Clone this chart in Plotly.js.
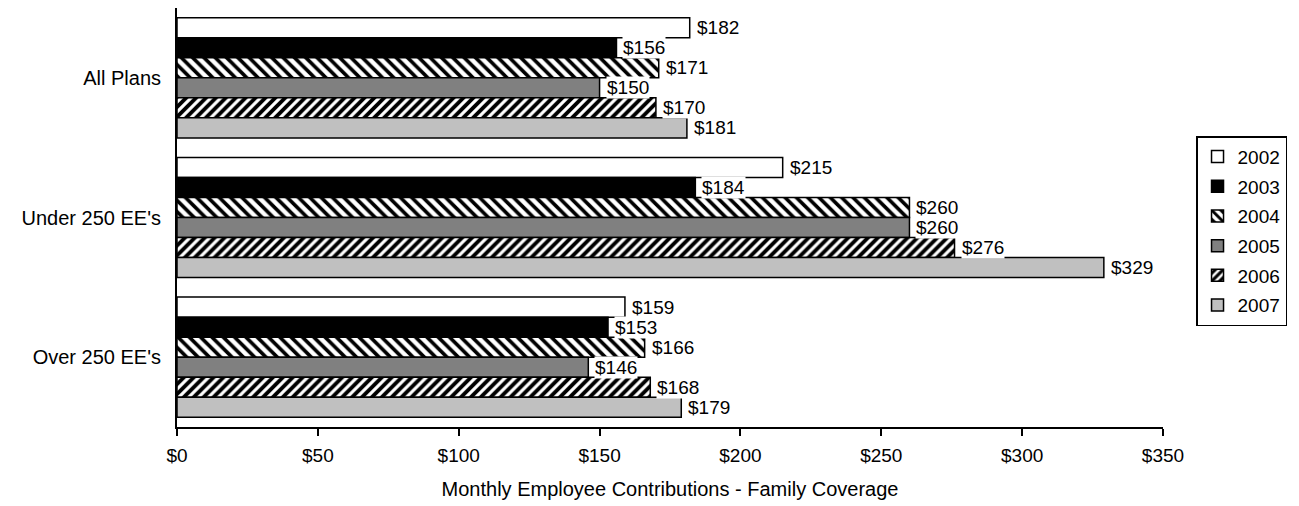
<!DOCTYPE html>
<html>
<head>
<meta charset="utf-8">
<script src="https://cdn.plot.ly/plotly-3.0.1.min.js"></script>
<style>html,body{margin:0;padding:0;background:#fff;}#chart{width:1299px;height:506px;}</style>
</head>
<body>
<div id="chart"></div>
<script>
const categories = ["All Plans", "Under 250 EE's", "Over 250 EE's"];
const years = ["2002", "2003", "2004", "2005", "2006", "2007"];
const values2002 = [182, 215, 159];
const values2003 = [156, 184, 153];
const values2004 = [171, 260, 166];
const values2005 = [150, 260, 146];
const values2006 = [170, 276, 168];
const values2007 = [181, 329, 179];
const xTickValues = [0, 50, 100, 150, 200, 250, 300, 350];
const xTickLabels = ["$0", "$50", "$100", "$150", "$200", "$250", "$300", "$350"];
const xTitle = "Monthly Employee Contributions - Family Coverage";

const seriesValues = [values2002, values2003, values2004, values2005, values2006, values2007];
const styles = [
  {color: "#ffffff"},
  {color: "#000000"},
  {color: "#ffffff", pattern: {shape: "\\", fgcolor: "#000000", bgcolor: "#ffffff", size: 8, solidity: 0.45}},
  {color: "#808080"},
  {color: "#ffffff", pattern: {shape: "/", fgcolor: "#000000", bgcolor: "#ffffff", size: 7, solidity: 0.55}},
  {color: "#c0c0c0"}
];
const FONT = "Liberation Sans, Arial, sans-serif";
const FS = 20;
const bargap = 0.14;
const groupW = 1 - bargap;
const n = years.length;

const traces = years.map((yr, j) => {
  const m = {color: styles[j].color, line: {color: "#000000", width: 1.5}};
  if (styles[j].pattern) m.pattern = styles[j].pattern;
  return {
    type: "bar", orientation: "h", name: yr,
    x: seriesValues[j], y: categories,
    marker: m, legendgroup: yr, hoverinfo: "x+name"
  };
});

const annotations = [];
years.forEach((yr, j) => {
  const off = -groupW / 2 + (j + 0.5) * groupW / n;
  seriesValues[j].forEach((v, i) => {
    annotations.push({
      x: v, y: i + off, xref: "x", yref: "y",
      text: "$" + v, showarrow: false, xanchor: "left", yanchor: "middle",
      xshift: 6, bgcolor: "#ffffff", borderpad: 0,
      font: {family: FONT, size: 19, color: "#000000"}
    });
  });
});

const layout = {
  width: 1299, height: 506,
  margin: {l: 177, r: 136, t: 8, b: 79, autoexpand: false},
  paper_bgcolor: "#ffffff", plot_bgcolor: "#ffffff",
  font: {family: FONT, size: FS, color: "#000000"},
  barmode: "group", bargap: bargap, bargroupgap: 0,
  xaxis: {
    range: [0, 350], tickmode: "array", tickvals: xTickValues, ticktext: xTickLabels,
    showgrid: false, zeroline: false, showline: true, linecolor: "#000000", linewidth: 2,
    ticks: "outside", ticklen: 7, tickwidth: 2, tickcolor: "#000000",
    ticklabelstandoff: 3, automargin: false,
    tickfont: {family: FONT, size: 19},
    title: {text: xTitle, standoff: 17, font: {family: FONT, size: FS}}
  },
  yaxis: {
    type: "category", autorange: "reversed", automargin: false,
    showgrid: false, zeroline: false, showline: true, linecolor: "#000000", linewidth: 2,
    ticks: "", ticklabelstandoff: 10,
    tickfont: {family: FONT, size: FS}
  },
  legend: {
    x: 1.0335, xanchor: "left", y: 0.694, yanchor: "top",
    bordercolor: "#000000", borderwidth: 1.5, bgcolor: "#ffffff",
    traceorder: "grouped", tracegroupgap: 2,
    font: {family: FONT, size: 19}, itemwidth: 30
  },
  annotations: annotations,
  showlegend: true
};

Plotly.newPlot("chart", traces, layout, {displayModeBar: false, staticPlot: true});
</script>
</body>
</html>
